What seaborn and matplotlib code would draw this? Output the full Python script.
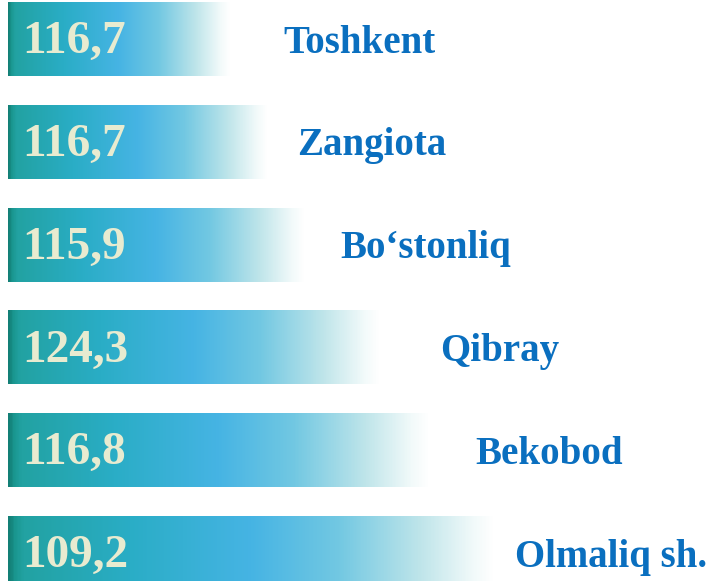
import numpy as np
import pandas as pd
import matplotlib
matplotlib.use("Agg")
import matplotlib.pyplot as plt
from matplotlib.colors import LinearSegmentedColormap
import seaborn as sns

# data
regions = ["Toshkent", "Zangiota", "Bo\u2018stonliq", "Qibray", "Bekobod", "Olmaliq sh."]
values = [116.7, 116.7, 115.9, 124.3, 116.8, 109.2]
# bar lengths as drawn in the source (decorative, not proportional to values)
bar_len = [222, 260, 297, 372, 422, 487]

# layout: where each name label starts (x, in the same units as bar_len)
label_x = [275, 289, 332, 432, 467, 507]

df = pd.DataFrame({"region": regions, "value": values, "length": bar_len})

sns.set_theme(style="white")
plt.rcParams["font.family"] = ["Liberation Serif", "DejaVu Serif"]

fig = plt.figure(figsize=(7.26, 5.81), dpi=100)
ax = fig.add_axes([0, 0, 1, 1])

sns.barplot(data=df, y="region", x="length", orient="h", width=0.72,
            color="#2eb0d0", ax=ax, saturation=1)

grad = LinearSegmentedColormap.from_list("bar", [
    (0.00, "#137f76"),
    (0.012, "#1a9790"),
    (0.03, "#22a2a2"),
    (0.25, "#2aadc6"),
    (0.50, "#46b4e4"),
    (0.68, "#72c8e2"),
    (0.85, "#bfe5ea"),
    (0.96, "#f2fafa"),
    (1.00, "#ffffff"),
])
img = grad(np.linspace(0, 1, 400))[None, :, :]

for patch in ax.patches:
    x0, y0 = patch.get_x(), patch.get_y()
    w, h = patch.get_width(), patch.get_height()
    patch.set_facecolor("none")
    patch.set_edgecolor("none")
    im = ax.imshow(img, extent=[x0, x0 + w, y0 + h, y0], aspect="auto",
                   interpolation="bilinear", zorder=2)
    im.set_clip_path(patch)

for i, (v, name) in enumerate(zip(values, regions)):
    ax.text(14, i + 0.03, f"{v:.1f}".replace(".", ","), ha="left", va="center",
            fontsize=34, fontweight="bold", color="#e8ebd0", zorder=3)
    ax.text(label_x[i], i + 0.04, name, ha="left", va="center",
            fontsize=28, fontweight="bold", color="#0a6fbf", zorder=3)

ax.set_xlim(-8, 718)
ax.set_ylim(5.272, -0.379)
ax.set_xlabel("")
ax.set_ylabel("")
ax.set_xticks([])
ax.set_yticks([])
sns.despine(ax=ax, left=True, bottom=True)

fig.savefig("out.png", dpi=100, facecolor="white")
